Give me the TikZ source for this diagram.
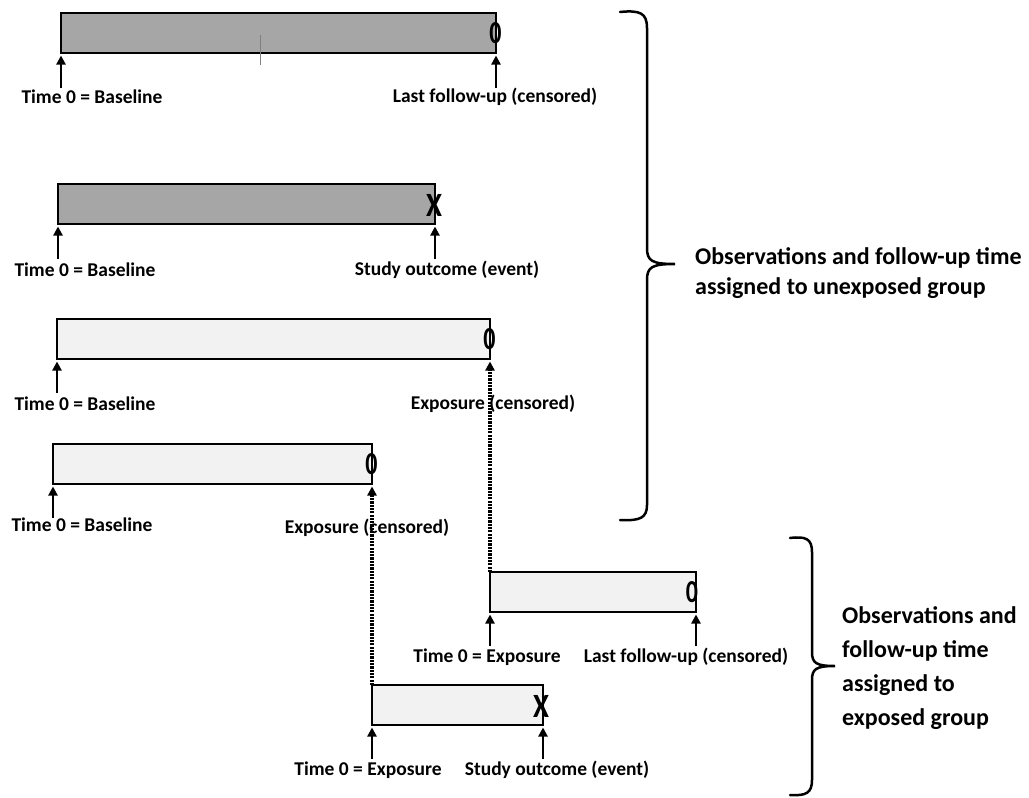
\documentclass[tikz,border=0pt]{standalone}
\usepackage{fontspec}
\setmainfont{Carlito}
\usetikzlibrary{arrows.meta,calc}
\definecolor{barDark}{HTML}{A6A6A6}
\definecolor{barLight}{HTML}{F2F2F2}
\begin{document}
\begin{tikzpicture}[x=1pt,y=-1pt,
  bar/.style={draw=black,line width=2.5pt,inner sep=0pt,outer sep=0pt,minimum height=40pt,anchor=north west},
  darkbar/.style={bar,fill=barDark},
  lightbar/.style={bar,fill=barLight},
  lbl/.style={font=\bfseries\fontsize{19.5}{22}\selectfont,inner sep=0pt},
  big/.style={font=\bfseries\fontsize{24}{30}\selectfont,inner sep=0pt,align=left,anchor=west},
  arr/.style={line width=2.2pt,-{Triangle[width=9pt,length=9pt]},shorten >=2.5pt},
  dotln/.style={line width=3.6pt,dash pattern=on 2.2pt off 1.1pt,-{Triangle[width=9pt,length=9pt]},shorten >=2.5pt},
  zmark/.style={font=\bfseries\fontsize{32}{32}\selectfont,inner sep=0pt},
  xmark/.style={font=\bfseries\fontsize{34}{34}\selectfont,inner sep=0pt},
  brc/.style={line width=2.5pt,line cap=round}
]
\useasboundingbox (0,0) rectangle (1029,798);

% bars
\node[darkbar,minimum width=435pt] (b1) at (61,13) {};
\node[darkbar,minimum width=377pt] (b2) at (58,184) {};
\node[lightbar,minimum width=433pt] (b3) at (57,319) {};
\node[lightbar,minimum width=319pt] (b4) at (53,444) {};
\node[lightbar,minimum width=206pt] (b5) at (490,572) {};
\node[lightbar,minimum width=171pt] (b6) at (372,685) {};

% tick on first bar
\draw[gray,line width=1pt] (260,35) -- (260,65);

% end markers
\node[zmark] (m1) at ($(b1.east)+(-0.5,0)$) {\scalebox{0.75}[1]{0}};
\node[xmark] (m2) at ($(b2.east)+(-1,1)$) {\scalebox{0.85}[1]{X}};
\node[zmark] (m3) at ($(b3.east)+(-0.5,0)$) {\scalebox{0.75}[1]{0}};
\node[zmark] (m4) at ($(b4.east)+(-0.5,0)$) {\scalebox{0.75}[1]{0}};
\node[zmark] (m5) at ($(b5.east)+(-4,0)$) {\scalebox{0.75}[1]{0}};
\node[xmark] (m6) at ($(b6.east)+(-2,1)$) {\scalebox{0.85}[1]{X}};

% arrow tails
\coordinate (t1l) at ($(b1.south west)+(0,35)$);  \coordinate (t1r) at ($(b1.south east)+(0,35)$);
\coordinate (t2l) at ($(b2.south west)+(0,35)$);  \coordinate (t2r) at ($(b2.south east)+(0,35)$);
\coordinate (t3l) at ($(b3.south west)+(0,34)$);
\coordinate (t4l) at ($(b4.south west)+(0,34)$);
\coordinate (t5l) at ($(b5.south west)+(0,34)$);  \coordinate (t5r) at ($(b5.south east)+(0,34)$);
\coordinate (t6l) at ($(b6.south west)+(0,34)$);  \coordinate (t6r) at ($(b6.south east)+(0,34)$);

\draw[arr] (t1l) -- (b1.south west);
\draw[arr] (t1r) -- (b1.south east);
\draw[arr] (t2l) -- (b2.south west);
\draw[arr] (t2r) -- (b2.south east);
\draw[arr] (t3l) -- (b3.south west);
\draw[arr] (t4l) -- (b4.south west);
\draw[arr] (t5l) -- (b5.south west);
\draw[arr] (t5r) -- (b5.south east);
\draw[arr] (t6l) -- (b6.south west);
\draw[arr] (t6r) -- (b6.south east);

% dotted links
\draw[dotln] (b5.north west) -- (b3.south east);
\draw[dotln] (b6.north west) -- (b4.south east);

% labels
\node[lbl] (l1l) at (92,97) {Time 0 = Baseline};
\node[lbl] (l1r) at (495,97) {Last follow-up (censored)};
\node[lbl] (l2l) at (85,270) {Time 0 = Baseline};
\node[lbl] (l2r) at (447,270) {Study outcome (event)};
\node[lbl] (l3l) at (85,404) {Time 0 = Baseline};
\node[lbl] (l3r) at (493,404) {Exposure (censored)};
\node[lbl] (l4l) at (82,525) {Time 0 = Baseline};
\node[lbl] (l4r) at (367,528) {Exposure (censored)};
\node[lbl] (l5l) at (487,657) {Time 0 = Exposure};
\node[lbl] (l5r) at (686,657) {Last follow-up (censored)};
\node[lbl] (l6l) at (368,770) {Time 0 = Exposure};
\node[lbl] (l6r) at (557,770) {Study outcome (event)};

% braces
\draw[brc] (620,12) .. controls (640,10) and (647,13) .. (647,28) -- (647,248)
  .. controls (647,261) and (652,264) .. (675,264)
  .. controls (652,264) and (647,267) .. (647,280) -- (647,505)
  .. controls (647,518) and (640,521) .. (620,520);
\draw[brc] (790,538) .. controls (806,536) and (812,539) .. (812,552) -- (812,652)
  .. controls (812,663) and (816,666) .. (835,666)
  .. controls (816,666) and (812,669) .. (812,680) -- (812,780)
  .. controls (812,793) and (806,796) .. (790,795);

\node[big] (g1) at (695,273) {Observations and follow-up time\\assigned to unexposed group};
\node[big,font=\bfseries\fontsize{24}{34}\selectfont] (g2) at (842,668) {Observations and\\follow-up time\\assigned to\\exposed group};
\end{tikzpicture}
\end{document}
